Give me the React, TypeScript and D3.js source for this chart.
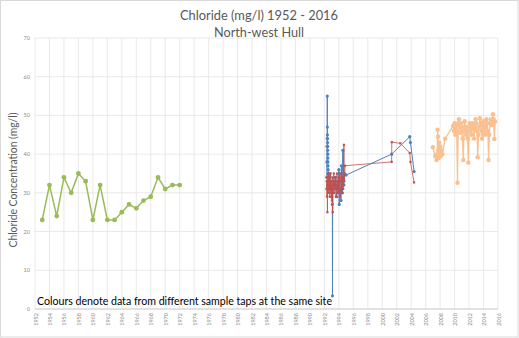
import React from "react";
import * as d3 from "d3";

const title1 = "Chloride (mg/l) 1952 - 2016";
const title2 = "North-west Hull";
const yTitle = "Chloride Concentration (mg/l)";
const note = "Colours denote data from different sample taps at the same site";

const yTicks = [0, 10, 20, 30, 40, 50, 60, 70];
const xTicks = d3.range(1952, 2017, 2);

// Green tap (annual)
const greenYears = [1953, 1954, 1955, 1956, 1957, 1958, 1959, 1960, 1961, 1962, 1963, 1964, 1965, 1966, 1967, 1968, 1969, 1970, 1971, 1972];
const greenValues = [23, 32, 24, 34, 30, 35, 33, 23, 32, 23, 23, 25, 27, 26, 28, 29, 34, 31, 32, 32];

// Blue tap
const blueYears = [1992.33, 1992.35, 1992.37, 1992.39, 1992.4, 1992.41, 1992.42, 1992.43, 1992.44, 1992.45, 1992.46, 1992.47, 1992.48, 1992.49, 1992.5, 1992.52, 1992.54, 1992.56, 1992.6, 1992.7, 1992.8, 1992.9, 1993.0, 1993.1, 1993.12, 1993.15, 1993.3, 1993.4, 1993.5, 1993.6, 1993.7, 1993.8, 1993.9, 1994.0, 1994.05, 1994.1, 1994.2, 1994.3, 1994.35, 1994.4, 1994.5, 1994.55, 1994.6, 1994.7, 1994.8, 1995.0, 2001.3, 2003.8, 2003.9, 2004.4];
const blueValues = [34, 38, 42, 44, 55, 47, 45, 44, 43, 42, 41, 40, 39, 38, 37, 36, 35, 34, 33, 35, 31, 33, 29, 27, 3.4, 30, 33, 31, 34, 32, 29, 33, 30, 36, 27, 35, 31, 28, 37, 33, 30, 41, 34, 32, 35, 34.6, 40, 44.5, 43, 35.5];

// Red tap
const redYears = [1992.3, 1992.33, 1992.36, 1992.38, 1992.42, 1992.46, 1992.5, 1992.55, 1992.6, 1992.65, 1992.7, 1992.75, 1992.8, 1992.85, 1992.9, 1992.95, 1993.0, 1993.05, 1993.1, 1993.15, 1993.2, 1993.3, 1993.35, 1993.4, 1993.5, 1993.55, 1993.6, 1993.7, 1993.75, 1993.8, 1993.9, 1993.95, 1994.0, 1994.1, 1994.15, 1994.2, 1994.3, 1994.4, 1994.45, 1994.5, 1994.6, 1994.7, 1994.75, 1994.85, 2001.3, 2001.32, 2002.5, 2003.8, 2003.9, 2004.4];
const redValues = [31, 33, 29, 34, 25, 32, 35, 30, 33, 31, 34, 29, 32, 35, 30, 33, 31, 28, 34, 25, 32, 35, 30, 33, 31, 34, 29, 32, 35, 31, 33, 30, 34, 31, 29, 33, 35, 30, 32, 34, 31, 42.4, 33, 37, 38, 43.1, 42.8, 40.3, 38, 32.7];

// Grey segment
const greyYears = [1994.6, 1994.62];
const greyValues = [41, 35.5];

// Orange tap
const orangeYears = [2007.0, 2007.3, 2007.5, 2007.6, 2007.65, 2007.7, 2007.75, 2007.8, 2007.85, 2007.9, 2008.0, 2008.1, 2008.2, 2008.3, 2008.7, 2009.8, 2009.9, 2010.0, 2010.1, 2010.2, 2010.3, 2010.4, 2010.5, 2010.6, 2010.7, 2010.8, 2010.9, 2011.0, 2011.1, 2011.2, 2011.3, 2011.4, 2011.5, 2011.6, 2011.7, 2011.8, 2011.9, 2012.0, 2012.1, 2012.2, 2012.35, 2012.5, 2012.6, 2012.7, 2012.8, 2012.9, 2013.0, 2013.1, 2013.2, 2013.3, 2013.4, 2013.5, 2013.6, 2013.7, 2013.8, 2013.9, 2014.0, 2014.1, 2014.2, 2014.3, 2014.4, 2014.5, 2014.6, 2014.7, 2014.8, 2014.9, 2015.0, 2015.1, 2015.2, 2015.3, 2015.4, 2015.5, 2015.6];
const orangeValues = [41.8, 39.5, 38.5, 40, 46.3, 44.5, 41, 39, 43, 40, 42, 39.5, 41, 40, 44, 47.3, 46, 48, 45, 47.5, 46, 32.6, 48, 49, 47, 45.5, 48, 46, 44, 38.5, 47, 48.5, 46, 45, 47, 44, 37.8, 46, 48, 47, 45, 48, 46.5, 44, 47, 49, 48, 46, 39.2, 45, 47, 49.3, 48, 46, 44, 47.5, 48.5, 46, 45, 47, 49, 48, 46, 38.5, 45, 48, 49, 47.5, 48.7, 50.3, 49, 43.9, 48.4];

const W = 519;
const H = 338;
const left = 35;
const right = 498;
const top = 38;
const bottom = 309;

export default function App() {
  const x = d3.scaleLinear().domain([1952, 2016]).range([left, right]);
  const y = d3.scaleLinear().domain([0, 70]).range([bottom, top]);
  const line = d3.line<[number, number]>().x((d) => x(d[0])).y((d) => y(d[1]));
  const zip = (a: number[], b: number[]) => a.map((v, i) => [v, b[i]] as [number, number]);

  const green = zip(greenYears, greenValues);
  const blue = zip(blueYears, blueValues);
  const red = zip(redYears, redValues);
  const grey = zip(greyYears, greyValues);
  const orange = zip(orangeYears, orangeValues);

  const font = "Lato, 'Open Sans', sans-serif";

  return (
    <svg width={W} height={H} style={{ position: "absolute", left: 0, top: 0, background: "#fff" }}>
      <rect x={0.5} y={0.5} width={W - 1.5} height={H - 1.5} fill="#fff" stroke="#d9d9d9" />
      {yTicks.map((t) => (
        <line key={"gy" + t} x1={left} x2={right} y1={y(t)} y2={y(t)} stroke="#e3e3e3" strokeWidth={0.8} />
      ))}
      {xTicks.map((t) => (
        <line key={"gx" + t} x1={x(t)} x2={x(t)} y1={top} y2={bottom} stroke="#e3e3e3" strokeWidth={0.8} />
      ))}
      <line x1={left} x2={right} y1={bottom} y2={bottom} stroke="#c8c8c8" strokeWidth={0.8} />
      {yTicks.map((t) => (
        <text key={"ty" + t} x={30} y={y(t) + 2} fontSize={5.5} fill="#8c8c8c" textAnchor="end" fontFamily={font}>
          {t}
        </text>
      ))}
      {xTicks.map((t) => (
        <text
          key={"tx" + t}
          transform={`translate(${x(t) + 2.5},${bottom + 4}) rotate(-90)`}
          fontSize={5.5}
          fill="#8c8c8c"
          textAnchor="end"
          fontFamily={font}
        >
          {t}
        </text>
      ))}
      <text x={259} y={20} textAnchor="middle" fontSize={13.5} fill="#595959" fontFamily={font} textLength={158} lengthAdjust="spacingAndGlyphs">
        {title1}
      </text>
      <text x={259} y={37} textAnchor="middle" fontSize={13.5} fill="#595959" fontFamily={font} textLength={90} lengthAdjust="spacingAndGlyphs">
        {title2}
      </text>
      <text transform="translate(17,180) rotate(-90)" textAnchor="middle" fontSize={10.5} fill="#595959" fontFamily={font} textLength={135} lengthAdjust="spacingAndGlyphs">
        {yTitle}
      </text>
      <path d={line(green) || ""} fill="none" stroke="#9bbb59" strokeWidth={1.5} />
      {green.map((d, i) => (
        <circle key={"g" + i} cx={x(d[0])} cy={y(d[1])} r={2.4} fill="#9bbb59" />
      ))}
      <path d={line(grey) || ""} fill="none" stroke="#d6d6d6" strokeWidth={2} />
      <path d={line(blue) || ""} fill="none" stroke="#4f81bd" strokeWidth={1} />
      {blue.map((d, i) => (
        <circle key={"b" + i} cx={x(d[0])} cy={y(d[1])} r={1.6} fill="#4f81bd" />
      ))}
      <path d={line(red) || ""} fill="none" stroke="#c0504d" strokeWidth={0.8} />
      {red.map((d, i) => (
        <rect key={"r" + i} x={x(d[0]) - 1.1} y={y(d[1]) - 1.1} width={2.2} height={2.2} fill="#c0504d" />
      ))}
      <path d={line(orange) || ""} fill="none" stroke="#fac090" strokeWidth={1.3} />
      {orange.map((d, i) => (
        <circle key={"o" + i} cx={x(d[0])} cy={y(d[1])} r={2.2} fill="#fac090" />
      ))}
      <text x={37} y={305} fontSize={11.5} fill="#000" fontFamily={font} textLength={295} lengthAdjust="spacingAndGlyphs">
        {note}
      </text>
    </svg>
  );
}
